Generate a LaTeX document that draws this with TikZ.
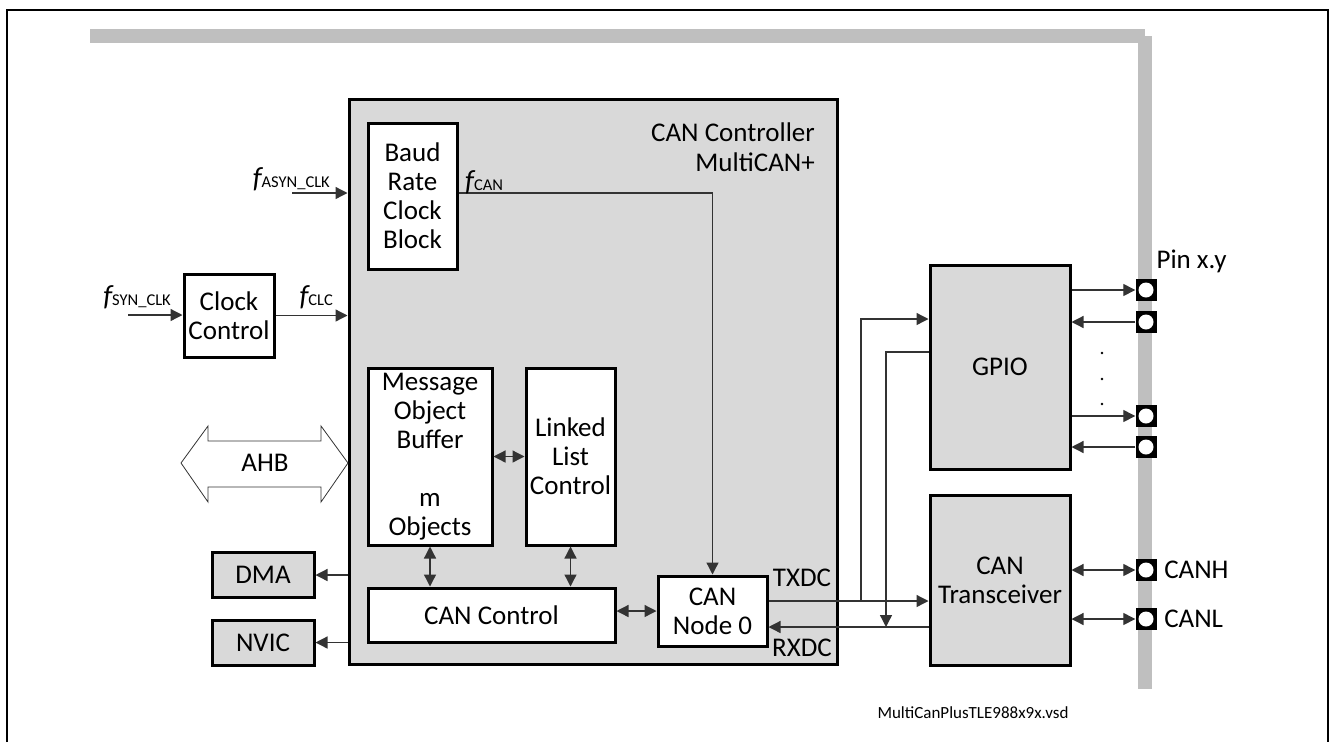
\documentclass[tikz,border=0pt]{standalone}
\usepackage{fontspec}
\setmainfont{Carlito}
\usepackage{tikz}
\usetikzlibrary{arrows.meta,positioning}
\definecolor{boxgray}{HTML}{D9D9D9}
\definecolor{busgray}{HTML}{BFBFBF}
\definecolor{wire}{HTML}{333333}
\newcommand{\fsig}[1]{{\fontsize{29}{29}\selectfont\itshape f}{\fontsize{16.5}{16.5}\selectfont #1}}

\begin{document}
\begin{tikzpicture}[x=1pt,y=-1pt,>={Triangle[length=12pt,width=12pt]},
  font=\fontsize{27}{29}\selectfont,
  wblk/.style={draw,line width=3pt,fill=white,align=center,inner sep=0pt},
  gblk/.style={wblk,fill=boxgray},
  sig/.style={draw=wire,line width=1.3pt},
  pin/.style={fill=black,minimum width=21pt,minimum height=22pt,inner sep=0pt,
    path picture={\fill[white] (path picture bounding box.center) circle (7.5pt);}}]
  \useasboundingbox (0,0) rectangle (1332,742);
  % frame and bus
  \draw[line width=1.5pt] (7,742) -- (7,10) -- (1328,10) -- (1328,742);
  \fill[busgray] (90,29) rectangle (1145,43);
  \fill[busgray] (1138,36) rectangle (1152,689);

  % controller
  \node[gblk,minimum width=488pt,minimum height=565pt] (ctrl) at (593,381.5) {};
  \node[anchor=north east,align=right,inner sep=0pt] (title) at (815,123) {CAN Controller\\[1pt]MultiCAN+};
  \node[wblk,minimum width=89pt,minimum height=146pt] (baud) at (412.5,196) {Baud\\Rate\\Clock\\Block};
  \node[wblk,minimum width=124pt,minimum height=177pt] (msg) at (430,456.5) {Message\\Object\\Buffer\\[29pt]m\\Objects};
  \node[wblk,minimum width=89pt,minimum height=177pt] (lnk) at (570.5,456.5) {Linked\\List\\Control};
  \node[wblk,minimum width=247pt,minimum height=54pt] (cctl) at (491.5,615) {CAN Control};
  \node[wblk,minimum width=109pt,minimum height=70pt] (node0) at (712.5,611) {CAN\\Node 0};

  % outside blocks
  \node[wblk,minimum width=90pt,minimum height=83pt] (clk) at (229,315.5) {Clock\\Control};
  \node[gblk,minimum width=102pt,minimum height=45pt] (dma) at (263,575) {DMA};
  \node[gblk,minimum width=102pt,minimum height=45pt] (nvic) at (263,642.5) {NVIC};
  \node[gblk,minimum width=140pt,minimum height=204pt] (gpio) at (1000,367) {GPIO};
  \node[gblk,minimum width=140pt,minimum height=170pt] (trx) at (1000,580) {CAN\\Transceiver};

  % AHB
  \draw[draw=wire,fill=white,line width=0.8pt] (181,463) -- (208,426) -- (208,441) -- (321,441) -- (321,426)
    -- (348,463) -- (321,502) -- (321,487) -- (208,487) -- (208,502) -- cycle;
  \node (ahb) at (265,463) {AHB};

  % pins
  \node[pin] (p1) at (1146,290) {};
  \node[pin] (p2) at (1146,322) {};
  \node[pin] (p3) at (1146,416) {};
  \node[pin] (p4) at (1146,447) {};
  \node[pin] (canh) at (1146,570) {};
  \node[pin] (canl) at (1146,619) {};
  \node[anchor=west] (lpin) at (1153,261) {Pin x.y};
  \node[anchor=west,xshift=4pt] (lcanh) at (canh.east) {CANH};
  \node[anchor=west,xshift=4pt] (lcanl) at (canl.east) {CANL};
  \foreach \y in {353,379,404} \fill (1102,\y) circle (1.3pt);

  % clocks
  \coordinate (asyn) at (292,193);
  \coordinate (syn) at (128,315);
  \draw[sig,->] (asyn) -- (asyn -| ctrl.west);
  \node[anchor=base east,inner sep=0pt] (lasyn) at (330,187) {\fsig{ASYN\_CLK}};
  \draw[sig,->] (syn) -- (syn -| clk.west);
  \node[anchor=base east,inner sep=0pt] (lsyn) at (171,305) {\fsig{SYN\_CLK}};
  \draw[sig,->] (clk.east) -- (clk.east -| ctrl.west);
  \node[anchor=base east,inner sep=0pt] (lclc) at (333,305) {\fsig{CLC}};
  \draw[sig,->] (baud.east |- asyn) -| (node0.north);
  \node[anchor=base west,inner sep=0pt] (lcan) at (465,190) {\fsig{CAN}};

  % internal links
  \draw[sig,<->] (msg.east) -- (lnk.west);
  \draw[sig,<->] (msg.south) -- (msg.south |- cctl.north);
  \draw[sig,<->] (lnk.south) -- (lnk.south |- cctl.north);
  \draw[sig,<->] (cctl.east |- node0.west) -- (node0.west);
  \draw[sig,->] (dma.east -| ctrl.west) -- (dma.east);
  \draw[sig,->] (nvic.east -| ctrl.west) -- (nvic.east);

  % TXDC / RXDC
  \coordinate (tx) at ([yshift=10pt]node0.east);
  \coordinate (rx) at ([yshift=-16pt]node0.east);
  \coordinate (gin) at (861,319);
  \coordinate (gout) at (886,352);
  \draw[sig,->] (tx) -- (tx -| trx.west);
  \draw[sig,->] (rx -| trx.west) -- (rx);
  \draw[sig,->] (tx -| gin) -- (gin) -- (gin -| gpio.west);
  \draw[sig,->] (gout -| gpio.west) -- (gout) -- (gout |- rx);
  \node (ltx) at (802,578) {TXDC};
  \node (lrx) at (802,648) {RXDC};

  % pin links
  \draw[sig,->] (gpio.east |- p1) -- (p1.west);
  \draw[sig,->] (p2.west) -- (gpio.east |- p2);
  \draw[sig,->] (gpio.east |- p3) -- (p3.west);
  \draw[sig,->] (p4.west) -- (gpio.east |- p4);
  \draw[sig,<->] (trx.east |- canh) -- (canh.west);
  \draw[sig,<->] (trx.east |- canl) -- (canl.west);

  \node[font=\fontsize{17}{20}\selectfont] (fname) at (973,713) {MultiCanPlusTLE988x9x.vsd};
\end{tikzpicture}
\end{document}
